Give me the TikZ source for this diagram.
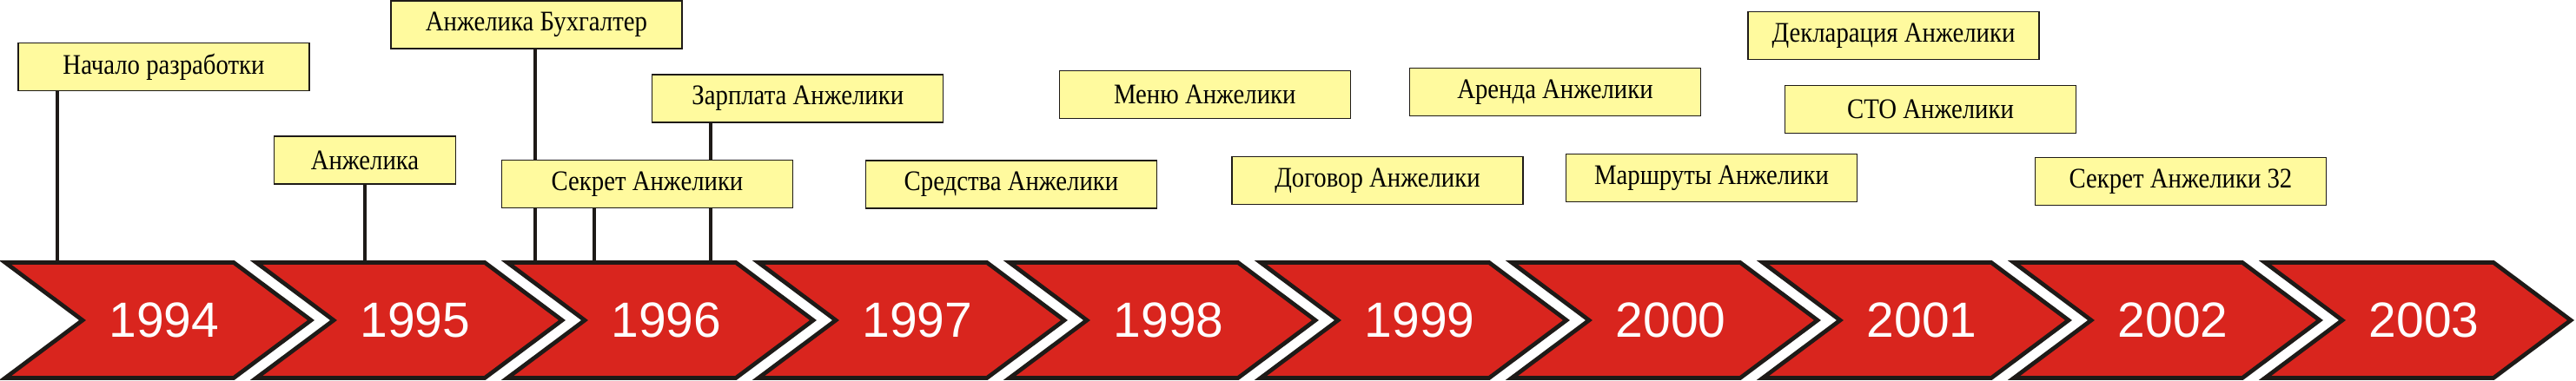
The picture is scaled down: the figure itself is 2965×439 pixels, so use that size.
\documentclass[tikz,border=0pt]{standalone}
\usepackage{fontspec}
\setmainfont{Liberation Serif}[FakeStretch=0.88]
\newfontfamily\yearfont{Liberation Sans}
\usetikzlibrary{backgrounds}
\definecolor{Ink}{HTML}{1E1A17}
\definecolor{Arrow}{HTML}{D9251E}
\definecolor{Note}{HTML}{FFFA9E}
\tikzset{note/.style={draw=Ink,line width=.37pt,fill=Note,minimum width=33.5mm,minimum height=5.5mm,inner sep=0pt,font=\fontsize{9.3}{10}\selectfont},
  tick/.style={Ink,line width=1.15pt}}

\begin{document}
\begin{tikzpicture}[x=.1mm,y=-.1mm]
        \useasboundingbox(0,0)rectangle(2965,439);
        \foreach\yr[count=\i from 0]in{1994,...,2003}{
          \pgfmathsetmacro\xo{6+289*\i}
          \draw[Ink,line width=1.35pt,fill=Arrow](\xo,302.5)--++(263,0)--++(89,66.5)--++(-89,66.5)--++(-263,0)--++(89,-66.5)--cycle;
          \node[white,font=\yearfont\fontsize{16.2}{18}\selectfont](y\yr)at(\xo+183,369){\yr};
        }
        \node[note](nach)at(188.5,76.8){Начало разработки};
        \node[note,minimum width=20.9mm](anzh)at(420,184.5){Анжелика};
        \node[note](buh)at(617.5,28.5){Анжелика Бухгалтер};
        \node[note](sekr)at(745,211.7){Секрет Анжелики};
        \node[note](zarp)at(918.3,113.5){Зарплата Анжелики};
        \node[note](sred)at(1164,212.5){Средства Анжелики};
        \node[note](menu)at(1386.8,108.8){Меню Анжелики};
        \node[note](dogov)at(1585.5,207.8){Договор Анжелики};
        \node[note](arenda)at(1790,106){Аренда Анжелики};
        \node[note](marsh)at(1970,204.8){Маршруты Анжелики};
        \node[note](dekl)at(2179.5,40.8){Декларация Анжелики};
        \node[note](sto)at(2222,125.8){СТО Анжелики};
        \node[note](sekrb)at(2510,208.8){Секрет Анжелики 32};
        \coordinate(f1)at(66,302.5);
        \coordinate(f2)at(420,302.5);
        \coordinate(f3)at(615.7,300);
        \coordinate(f4)at(684,302.5);
        \coordinate(f5)at(818,302.5);
        \begin{scope}[on background layer]
          \draw[tick](nach.south-|f1)--(f1);
          \draw[tick](anzh.south-|f2)--(f2);
          \draw[tick](buh.south-|f3)--(f3);
          \draw[tick](sekr.south-|f4)--(f4);
          \draw[tick](zarp.south-|f5)--(f5);
        \end{scope}
      \end{tikzpicture}
\end{document}
